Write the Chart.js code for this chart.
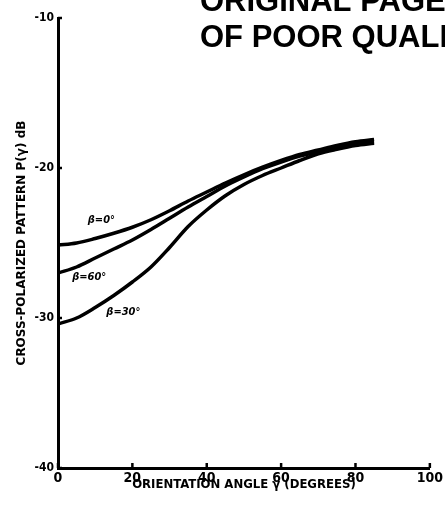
<!DOCTYPE html>
<html>
<head>
<meta charset="utf-8">
<script src="https://cdn.jsdelivr.net/npm/chart.js@4"></script>
<style>
  html, body { margin: 0; padding: 0; background: #fff; overflow: hidden; }
  #wrap { width: 445px; height: 507px; position: relative; }
</style>
</head>
<body>
<div id="wrap"><canvas id="c"></canvas></div>
<script>
// Orientation angle gamma (degrees)
const gammaDeg = [0, 5, 10, 15, 20, 25, 30, 35, 40, 45, 50, 55, 60, 65, 70, 75, 80, 85];
// Cross-polarized pattern level (dB) for each beta
const beta0  = [-25.15, -25.0, -24.7, -24.35, -23.95, -23.45, -22.85, -22.2, -21.6, -21.0, -20.45, -19.95, -19.5, -19.1, -18.8, -18.5, -18.25, -18.1];
const beta60 = [-27.0, -26.6, -26.0, -25.4, -24.8, -24.1, -23.35, -22.6, -21.9, -21.2, -20.6, -20.05, -19.6, -19.2, -18.9, -18.6, -18.4, -18.25];
const beta30 = [-30.4, -30.0, -29.3, -28.5, -27.6, -26.6, -25.3, -23.9, -22.8, -21.85, -21.1, -20.5, -20.0, -19.5, -19.05, -18.75, -18.5, -18.35];
// Axis ticks
const xTicks = [0, 20, 40, 60, 80, 100];
const yTicks = [-10, -20, -30, -40];
// Curve labels: text with the (gamma, dB) point they sit at
const curveLabels = [
  { text: 'β=0°',  g: 8.0,  db: -23.5 },
  { text: 'β=60°', g: 3.8,  db: -27.3 },
  { text: 'β=30°', g: 13.0, db: -29.6 }
];

const narrow = "'Liberation Sans Narrow', 'DejaVu Sans Condensed', sans-serif";

function pts(ys) { return gammaDeg.map((g, i) => ({ x: g, y: ys[i] })); }

const lineStyle = {
  borderColor: '#000',
  borderWidth: 3.5,
  pointRadius: 0,
  cubicInterpolationMode: 'monotone',
  fill: false
};

const decor = {
  id: 'decor',
  afterDraw(chart) {
    const { ctx, scales: { x, y } } = chart;
    ctx.save();
    ctx.fillStyle = '#000';
    ctx.strokeStyle = '#000';
    // small tick stubs along both axes
    ctx.lineWidth = 2.5;
    const x0 = x.getPixelForValue(0), y0 = y.getPixelForValue(-40);
    yTicks.forEach(v => {
      const py = y.getPixelForValue(v);
      ctx.beginPath(); ctx.moveTo(x0, py); ctx.lineTo(x0 + 4, py); ctx.stroke();
    });
    xTicks.forEach(v => {
      const px = x.getPixelForValue(v);
      ctx.beginPath(); ctx.moveTo(px, y0); ctx.lineTo(px, y0 - 5); ctx.stroke();
    });
    // curve labels
    ctx.font = "italic bold 11px " + narrow;
    ctx.textBaseline = 'middle';
    ctx.textAlign = 'left';
    curveLabels.forEach(l => {
      ctx.fillText(l.text, x.getPixelForValue(l.g), y.getPixelForValue(l.db));
    });
    // stamped header
    ctx.font = "bold 31px 'Liberation Sans', sans-serif";
    ctx.textBaseline = 'alphabetic';
    ctx.fillText('ORIGINAL PAGE IS', 200, 11);
    ctx.fillText('OF POOR QUALITY', 200, 47);
    ctx.restore();
  }
};

new Chart(document.getElementById('c'), {
  type: 'line',
  data: {
    datasets: [
      Object.assign({ label: 'β=0°',  data: pts(beta0) }, lineStyle),
      Object.assign({ label: 'β=60°', data: pts(beta60) }, lineStyle),
      Object.assign({ label: 'β=30°', data: pts(beta30) }, lineStyle)
    ]
  },
  options: {
    responsive: true,
    maintainAspectRatio: false,
    animation: false,
    events: [],
    layout: { padding: { top: 18, right: 10, left: 0, bottom: 0 } },
    plugins: { legend: { display: false }, tooltip: { enabled: false } },
    scales: {
      x: {
        type: 'linear',
        min: 0, max: 100,
        afterBuildTicks(s) { s.ticks = xTicks.map(v => ({ value: v })); },
        afterFit(s) { s.height = 39; },
        grid: { display: false, drawTicks: false },
        border: { display: true, color: '#000', width: 3 },
        ticks: { color: '#000', padding: 2, maxRotation: 0, font: { family: narrow, size: 14, weight: 'bold' } },
        title: {
          display: true,
          text: 'ORIENTATION ANGLE γ (DEGREES)',
          color: '#000',
          font: { family: narrow, size: 13, weight: 'bold' },
          padding: { top: 0, bottom: 15 }
        }
      },
      y: {
        type: 'linear',
        min: -40, max: -10,
        afterBuildTicks(s) { s.ticks = yTicks.map(v => ({ value: v })); },
        afterFit(s) { s.width = 58; },
        grid: { display: false, drawTicks: false },
        border: { display: true, color: '#000', width: 3 },
        ticks: { color: '#000', padding: 4, font: { family: narrow, size: 12, weight: 'bold' } },
        title: {
          display: true,
          text: 'CROSS-POLARIZED PATTERN P(γ) dB',
          color: '#000',
          font: { family: "'DejaVu Sans', sans-serif", size: 12, weight: 'bold' },
          padding: { top: 15, bottom: 0 }
        }
      }
    }
  },
  plugins: [decor]
});
</script>
</body>
</html>
